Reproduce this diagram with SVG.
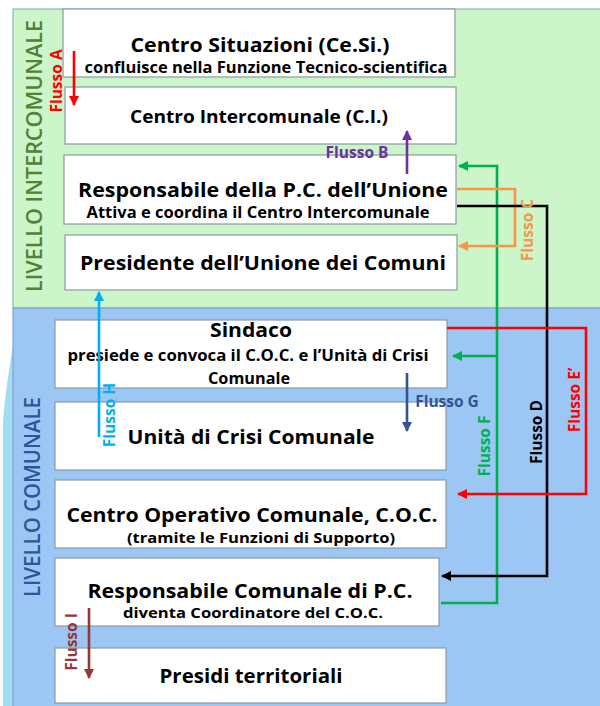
<svg xmlns="http://www.w3.org/2000/svg" width="600" height="706" viewBox="0 0 600 706">
<defs>
<style>
.box{fill:#fff;stroke:#8c9aa6;stroke-width:1.2}
.t{font-family:"Open Sans","Liberation Sans",sans-serif;font-weight:bold;fill:#000;text-anchor:middle}
.big{font-size:20px}
.sm{font-size:15.5px}
.xs{font-size:14px}
.fl{font-family:"Open Sans","Liberation Sans",sans-serif;font-weight:bold;font-size:15.5px;text-anchor:middle}
.lv{font-family:"Open Sans","Liberation Sans",sans-serif;font-weight:600;font-size:22px;text-anchor:middle}
.c{fill:none;stroke-width:2.6}
</style>
<marker id="mRed" viewBox="0 0 10 10" refX="9" refY="5" markerWidth="4" markerHeight="4" orient="auto"><path d="M0,0L10,5L0,10z" fill="#ff0000"/></marker>
<marker id="mPur" viewBox="0 0 10 10" refX="9" refY="5" markerWidth="4" markerHeight="4" orient="auto"><path d="M0,0L10,5L0,10z" fill="#7030a0"/></marker>
<marker id="mGrn" viewBox="0 0 10 10" refX="9" refY="5" markerWidth="4" markerHeight="4" orient="auto"><path d="M0,0L10,5L0,10z" fill="#00b050"/></marker>
<marker id="mOrg" viewBox="0 0 10 10" refX="9" refY="5" markerWidth="4" markerHeight="4" orient="auto"><path d="M0,0L10,5L0,10z" fill="#f79646"/></marker>
<marker id="mBlk" viewBox="0 0 10 10" refX="9" refY="5" markerWidth="4" markerHeight="4" orient="auto"><path d="M0,0L10,5L0,10z" fill="#000"/></marker>
<marker id="mDb" viewBox="0 0 10 10" refX="9" refY="5" markerWidth="4" markerHeight="4" orient="auto"><path d="M0,0L10,5L0,10z" fill="#2f5597"/></marker>
<marker id="mCy" viewBox="0 0 10 10" refX="9" refY="5" markerWidth="4" markerHeight="4" orient="auto"><path d="M0,0L10,5L0,10z" fill="#00b0f0"/></marker>
<marker id="mBr" viewBox="0 0 10 10" refX="9" refY="5" markerWidth="4" markerHeight="4" orient="auto"><path d="M0,0L10,5L0,10z" fill="#953735"/></marker>
</defs>
<rect width="600" height="706" fill="#fff"/>
<g id="zones">
<path d="M13,345 C9,370 5,395 3,420 L3,706 L13,706 Z" fill="#a3dcf5"/>
<rect x="13" y="9" width="590" height="299" fill="#ccf5ca" stroke="#8fb4c4" stroke-width="1.2"/>
<rect x="13" y="308" width="590" height="400" fill="#9cc6f4" stroke="#7fa6cf" stroke-width="1.2"/>
<text class="lv" transform="translate(42,156) rotate(-90)" fill="#548235" textLength="272" lengthAdjust="spacingAndGlyphs">LIVELLO INTERCOMUNALE</text>
<text class="lv" transform="translate(40,497) rotate(-90)" fill="#2f5597" textLength="200" lengthAdjust="spacingAndGlyphs">LIVELLO COMUNALE</text>
</g>
<g id="n1"><rect class="box" x="63" y="9" width="392" height="68"/>
<text class="t big" x="260" y="52" textLength="259" lengthAdjust="spacingAndGlyphs">Centro Situazioni (Ce.Si.)</text>
<text class="t sm" x="266" y="73" textLength="363" lengthAdjust="spacingAndGlyphs">confluisce nella Funzione Tecnico-scientifica</text></g>
<g id="n2"><rect class="box" x="65" y="87" width="391" height="57"/>
<text class="t" style="font-size:18.5px" x="259" y="123" textLength="258" lengthAdjust="spacingAndGlyphs">Centro Intercomunale (C.I.)</text></g>
<g id="n3"><rect class="box" x="64" y="155" width="392" height="69"/>
<text class="t big" x="263" y="197" textLength="370" lengthAdjust="spacingAndGlyphs">Responsabile della P.C. dell’Unione</text>
<text class="t sm" x="258" y="218" textLength="343" lengthAdjust="spacingAndGlyphs">Attiva e coordina il Centro Intercomunale</text></g>
<g id="n4"><rect class="box" x="65" y="235" width="392" height="55"/>
<text class="t big" x="263" y="270" textLength="366" lengthAdjust="spacingAndGlyphs">Presidente dell’Unione dei Comuni</text></g>
<g id="n5"><rect class="box" x="55" y="320" width="392" height="68"/>
<text class="t big" x="251" y="337" textLength="82" lengthAdjust="spacingAndGlyphs">Sindaco</text>
<text class="t sm" x="248" y="361" textLength="361" lengthAdjust="spacingAndGlyphs">presiede e convoca il C.O.C. e l’Unità di Crisi</text>
<text class="t sm" x="249" y="384" textLength="82" lengthAdjust="spacingAndGlyphs">Comunale</text></g>
<g id="n6"><rect class="box" x="55" y="402" width="391" height="68"/>
<text class="t big" x="251" y="444" textLength="247" lengthAdjust="spacingAndGlyphs">Unità di Crisi Comunale</text></g>
<g id="n7"><rect class="box" x="55" y="480" width="391" height="68"/>
<text class="t big" x="252" y="522" textLength="371" lengthAdjust="spacingAndGlyphs">Centro Operativo Comunale, C.O.C.</text>
<text class="t xs" x="261" y="543" textLength="268" lengthAdjust="spacingAndGlyphs">(tramite le Funzioni di Supporto)</text></g>
<g id="n8"><rect class="box" x="55" y="558" width="384" height="68"/>
<text class="t big" x="250" y="598" textLength="325" lengthAdjust="spacingAndGlyphs">Responsabile Comunale di P.C.</text>
<text class="t xs" x="253" y="618" textLength="260" lengthAdjust="spacingAndGlyphs">diventa Coordinatore del C.O.C.</text></g>
<g id="n9"><rect class="box" x="55" y="648" width="391" height="55"/>
<text class="t big" x="251" y="683" textLength="183" lengthAdjust="spacingAndGlyphs">Presidi territoriali</text></g>
<g id="connectors">
<path class="c" stroke="#ff0000" d="M74,51 V105" marker-end="url(#mRed)"/>
<path class="c" stroke="#7030a0" d="M407,174 V131" marker-end="url(#mPur)"/>
<path class="c" stroke="#00b050" d="M441,603 H497 V166 H459" marker-end="url(#mGrn)"/>
<path class="c" stroke="#00b050" d="M497,356 H453" marker-end="url(#mGrn)"/>
<path class="c" stroke="#f79646" d="M457,189 H515 V246 H459" marker-end="url(#mOrg)"/>
<path class="c" stroke="#000" d="M457,206 H547 V576 H442" marker-end="url(#mBlk)"/>
<path class="c" stroke="#ff0000" d="M447,328 H586 V494 H458" marker-end="url(#mRed)"/>
<path class="c" stroke="#2f5597" d="M407,373 V431" marker-end="url(#mDb)"/>
<path class="c" stroke="#00b0f0" d="M99,437 V292" marker-end="url(#mCy)"/>
<path class="c" stroke="#953735" d="M89,608 V678" marker-end="url(#mBr)"/>
</g>
<g id="labels">
<text class="fl" fill="#ff0000" transform="translate(62,81) rotate(-90)">Flusso A</text>
<text class="fl" fill="#7030a0" x="357" y="158">Flusso B</text>
<text class="fl" fill="#f79646" transform="translate(533,230) rotate(-90)">Flusso C</text>
<text class="fl" fill="#000" transform="translate(542,432) rotate(-90)">Flusso D</text>
<text class="fl" fill="#ff0000" transform="translate(580,400) rotate(-90)">Flusso E’</text>
<text class="fl" fill="#00b050" transform="translate(490,446) rotate(-90)">Flusso F</text>
<text class="fl" fill="#2f5597" x="447" y="407">Flusso G</text>
<text class="fl" fill="#00b0f0" transform="translate(115,415) rotate(-90)">Flusso H</text>
<text class="fl" fill="#953735" transform="translate(77,642) rotate(-90)">Flusso I</text>
</g>
</svg>
